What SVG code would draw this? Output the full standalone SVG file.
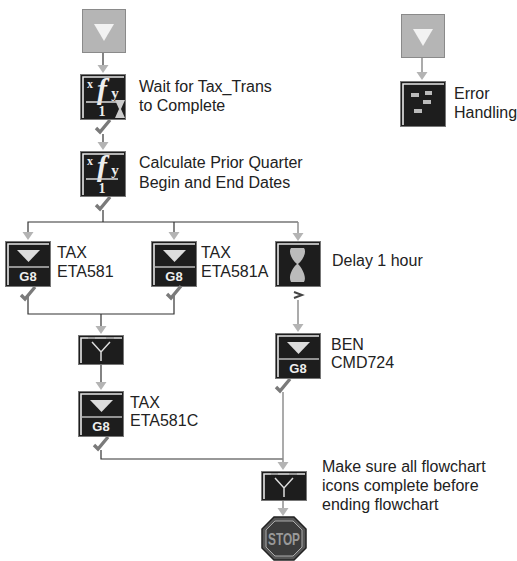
<svg xmlns="http://www.w3.org/2000/svg" xmlns:xlink="http://www.w3.org/1999/xlink" width="517" height="561" viewBox="0 0 517 561">
<style>
.lbl{font:16px "Liberation Sans",Arial,sans-serif;fill:#222}
.dark{fill:#1d1d1d;stroke:#777;stroke-width:1}
.hl{fill:none;stroke:#e8e8e8;stroke-width:1.6}
.g8{font:bold 13px "Liberation Sans",Arial,sans-serif;fill:#eee;text-anchor:middle}
.ser{font-family:"Liberation Serif",serif;font-weight:bold;fill:#eee;text-anchor:middle}
.wire{fill:none;stroke:#333;stroke-width:1.2}
.wireg{fill:none;stroke:#888;stroke-width:1.4}
.ah{fill:#b4b4b4}
.chk{fill:none;stroke:#7a7a7a;stroke-width:3.4}
</style>
<defs>
<g id="ar"><path class="ah" d="M-5.5 -8H5.5L0 0Z"/></g>
<g id="ck"><path class="chk" d="M-7 8L-3 12L7 0"/></g>
<g id="start"><rect x="0.5" y="0.5" width="43" height="43" fill="#b5b5b5" stroke="#8a8a8a"/><path d="M12 15H32L22 32Z" fill="#f2f2f2"/></g>
<g id="frame"><rect class="dark" x="0.500" y="0.500" width="45" height="45"/><path class="hl" d="M3 44V3H44"/></g>
<g id="g8i"><use xlink:href="#frame"/><path d="M12 9H35L23.500 21Z" fill="#ddd"/><path d="M3 26H44" stroke="#bbb" stroke-width="1.500"/><text class="g8" x="23" y="40">G8</text></g>
<g id="fx"><use xlink:href="#frame"/><text class="ser" x="10" y="14" font-size="12">x</text><text class="ser" x="22" y="25" font-size="30" font-style="italic">f</text><text class="ser" x="35" y="24" font-size="15">y</text><path d="M6 28H38" stroke="#ddd" stroke-width="1.500"/><text class="ser" x="22" y="42" font-size="14">1</text></g>
<g id="join"><rect class="dark" x="0.500" y="0.500" width="45" height="29"/><path class="hl" d="M3 28V3H44"/><path d="M14 7L23 17L32 7M23 17V26" fill="none" stroke="#ddd" stroke-width="1.500"/><path d="M10 3H17M28 3H36" stroke="#999" stroke-width="2"/></g>
</defs>
<g id="connectors">
<path class="wire" d="M103 53V66M103 134V144M103 210V222M28 233V222H298M174 222V233M28 295V314H174V295M101 314V328M101 364V384M101 450V459H283"/>
<path class="wireg" d="M298 222V235M298 300V326M283 392V464M283 500V510M422 58V73"/>
<use xlink:href="#ar" x="103" y="73"/><use xlink:href="#ar" x="103" y="150"/>
<use xlink:href="#ar" x="28" y="240"/><use xlink:href="#ar" x="174" y="240"/><use xlink:href="#ar" x="298" y="241"/>
<use xlink:href="#ar" x="298" y="332"/><use xlink:href="#ar" x="101" y="334"/><use xlink:href="#ar" x="101" y="390"/>
<use xlink:href="#ar" x="283" y="470"/><use xlink:href="#ar" x="283" y="516"/><use xlink:href="#ar" x="422" y="80"/>
</g>
<g id="start1"><use xlink:href="#start" x="82" y="9"/></g>
<g id="wait"><use xlink:href="#fx" x="80" y="74"/><path d="M115 100H125L121 109L125 118H115L119 109Z" fill="#ccc"/><use xlink:href="#ck" x="103" y="120"/><text class="lbl" x="139" y="92">Wait for Tax_Trans</text><text class="lbl" x="139" y="111">to Complete</text></g>
<g id="calc"><use xlink:href="#fx" x="80" y="151"/><use xlink:href="#ck" x="103" y="197"/><text class="lbl" x="139" y="168">Calculate Prior Quarter</text><text class="lbl" x="139" y="188">Begin and End Dates</text></g>
<g id="eta581"><use xlink:href="#g8i" x="5" y="241"/><use xlink:href="#ck" x="28" y="287"/><text class="lbl" x="57" y="258">TAX</text><text class="lbl" x="57" y="277">ETA581</text></g>
<g id="eta581a"><use xlink:href="#g8i" x="151" y="241"/><use xlink:href="#ck" x="174" y="286"/><text class="lbl" x="201" y="258">TAX</text><text class="lbl" x="201" y="277">ETA581A</text></g>
<g id="delay"><use xlink:href="#frame" x="275" y="241"/><path d="M291 248C288 252 292 260 297 264C292 268 288 277 291 282H304C307 277 302 268 298 264C303 260 307 252 304 248Z" fill="#bbb"/><path d="M294 292L302 295L294 298" fill="none" stroke="#444" stroke-width="2"/><text class="lbl" x="332" y="266">Delay 1 hour</text></g>
<g id="ben"><use xlink:href="#g8i" x="275" y="333"/><use xlink:href="#ck" x="283" y="379"/><text class="lbl" x="331" y="350">BEN</text><text class="lbl" x="331" y="368">CMD724</text></g>
<g id="join1"><use xlink:href="#join" x="78" y="335"/></g>
<g id="eta581c"><use xlink:href="#g8i" x="78" y="391"/><use xlink:href="#ck" x="101" y="437"/><text class="lbl" x="130" y="408">TAX</text><text class="lbl" x="130" y="426">ETA581C</text></g>
<g id="join2"><use xlink:href="#join" x="261" y="471"/><text class="lbl" x="322" y="472">Make sure all flowchart</text><text class="lbl" x="322" y="491">icons complete before</text><text class="lbl" x="322" y="510">ending flowchart</text></g>
<g id="stop"><path d="M274 517H294L306 529V548L294 560H274L262 548V529Z" fill="#555" stroke="#222" stroke-width="1.500"/><path d="M275 521H293L302 530V547L293 556H275L266 547V530Z" fill="#3c3c3c" stroke="#aaa"/><text x="284" y="545" font-family="'Liberation Sans',sans-serif" font-size="17" font-weight="bold" fill="#999" text-anchor="middle" textLength="32" lengthAdjust="spacingAndGlyphs">STOP</text></g>
<g id="start2"><use xlink:href="#start" x="401" y="14"/></g>
<g id="err"><use xlink:href="#frame" x="400" y="81"/><path d="M411 93H419V97H411ZM425 91H432V95H425ZM423 100H431V104H423ZM414 109H422V113H414Z" fill="#bbb"/><text class="lbl" x="454" y="99">Error</text><text class="lbl" x="454" y="118">Handling</text></g>
</svg>
